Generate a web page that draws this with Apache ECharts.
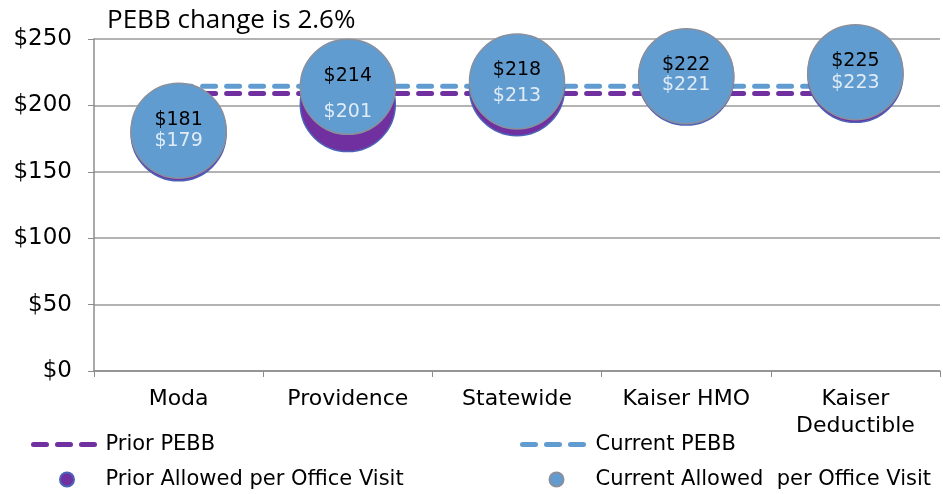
<!DOCTYPE html>
<html lang="en">
<head>
    <meta charset="UTF-8">
    <title>PEBB change</title>
    <script src="https://cdn.jsdelivr.net/npm/echarts@6/dist/echarts.min.js"></script>
    <style>
        *{
            margin: 0;
            padding: 0;
        }
        html, body{
            width: 100%;
            height: 100%;
            overflow: hidden;
            background: #fff;
        }
        .container{
            width: 943px;
            height: 494px;
        }
    </style>
</head>
<body>
<div class="container"></div>
<script>
    // values
    let categories = ['Moda', 'Providence', 'Statewide', 'Kaiser HMO', 'Kaiser\nDeductible'];
    let priorAllowed = [179, 201, 213, 221, 223];
    let currentAllowed = [181, 214, 218, 222, 225];
    let priorPebb = [209, 209, 209, 209, 209];
    let currentPebb = [214.5, 214.5, 214.5, 214.5, 214.5];
    let yTicks = [0, 50, 100, 150, 200, 250];

    let purple = '#7030A0';
    let blue = '#619CD0';
    let font = 'DejaVu Sans, Verdana, sans-serif';

    let container = document.querySelector('.container');
    let mycharts = echarts.init(container);

    let dashed = function (color) {
        return {color: color, width: 5, type: [13, 11], cap: 'round'};
    };

    let legendBase = {
        orient: 'vertical',
        top: 434,
        padding: 0,
        itemHeight: 14,
        itemGap: 14,
        textStyle: {fontFamily: font, fontSize: 21, color: '#000'}
    };

    let options = {
        animation: false,
        title: {
            text: 'PEBB change is 2.6%',
            left: 102,
            top: 3,
            textStyle: {fontFamily: 'Open Sans, sans-serif', fontSize: 26, fontWeight: 'normal', color: '#000'}
        },
        grid: {left: 94, right: 3, top: 39, bottom: 123},
        xAxis: {
            type: 'category',
            data: categories,
            axisLine: {lineStyle: {color: '#8c8c8c', width: 1.5}},
            axisTick: {show: true, length: 6, lineStyle: {color: '#8c8c8c'}},
            axisLabel: {color: '#000', fontFamily: font, fontSize: 22, lineHeight: 27, margin: 15}
        },
        yAxis: {
            type: 'value',
            min: yTicks[0],
            max: yTicks[yTicks.length - 1],
            interval: 50,
            axisLine: {show: true, lineStyle: {color: '#8c8c8c', width: 1.5}},
            axisTick: {show: true, length: 6, lineStyle: {color: '#8c8c8c'}},
            splitLine: {lineStyle: {color: '#9a9a9a', width: 1.5}},
            axisLabel: {color: '#000', fontFamily: font, fontSize: 23, margin: 22, formatter: v => '$' + v}
        },
        legend: [
            Object.assign({
                left: 31,
                itemWidth: 67,
                data: [
                    {name: 'Prior PEBB', itemStyle: {opacity: 0}, lineStyle: dashed(purple)},
                    {name: 'Prior Allowed per Office Visit'}
                ]
            }, legendBase),
            Object.assign({
                left: 520,
                itemWidth: 68,
                data: [
                    {name: 'Current PEBB', itemStyle: {opacity: 0}, lineStyle: dashed(blue)},
                    {name: 'Current Allowed  per Office Visit'}
                ]
            }, legendBase)
        ],
        series: [{
            name: 'Prior PEBB',
            type: 'line',
            data: priorPebb,
            symbol: 'none',
            lineStyle: dashed(purple),
            itemStyle: {color: purple},
            z: 1
        }, {
            name: 'Current PEBB',
            type: 'line',
            data: currentPebb,
            symbol: 'none',
            lineStyle: dashed(blue),
            itemStyle: {color: blue},
            z: 1
        }, {
            name: 'Prior Allowed per Office Visit',
            type: 'scatter',
            data: priorAllowed,
            symbolSize: 95,
            itemStyle: {color: purple, borderColor: '#4a63b8', borderWidth: 1.5, opacity: 1},
            z: 3
        }, {
            name: 'Current Allowed  per Office Visit',
            type: 'scatter',
            data: currentAllowed,
            symbolSize: 95,
            itemStyle: {color: blue, borderColor: '#8a8f9c', borderWidth: 1.5, opacity: 1},
            label: {
                show: true,
                position: 'inside',
                offset: [0, -11],
                formatter: p => '$' + p.value,
                color: '#000',
                fontFamily: font,
                fontSize: 19
            },
            z: 4
        }, {
            name: 'prior labels',
            type: 'scatter',
            data: priorAllowed,
            symbolSize: 1,
            itemStyle: {color: 'rgba(0,0,0,0)'},
            silent: true,
            label: {
                show: true,
                position: 'inside',
                offset: [0, 8],
                formatter: p => '$' + p.value,
                color: '#fff',
                textBorderWidth: 0,
                fontFamily: font,
                fontSize: 19
            },
            z: 6
        }]
    };

    mycharts.setOption(options);
</script>
</body>
</html>
